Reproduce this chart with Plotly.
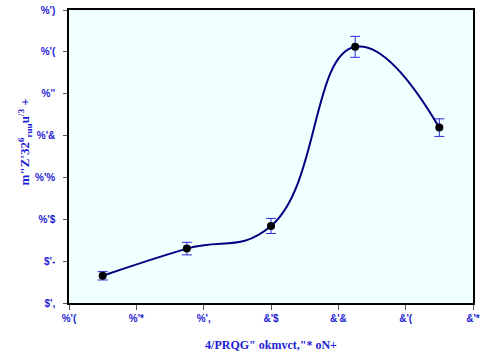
import plotly.graph_objects as go

x_vals = [1.5, 1.75, 2.0, 2.25, 2.5]
y_vals = [0.865, 0.930, 0.984, 1.412, 1.219]
y_err = [0.010, 0.015, 0.018, 0.025, 0.021]

x_tick_vals = [1.4, 1.6, 1.8, 2.0, 2.2, 2.4, 2.6]
x_tick_text = ["%'(", "%'*", "%',", "&'$", "&'&", "&'(", "&'*"]
y_tick_vals = [0.8, 0.9, 1.0, 1.1, 1.2, 1.3, 1.4, 1.5]
y_tick_text = ["$',", "$'-", "%'$", "%'%", "%'&", "%''", "%'(", "%')"]

x_title = "4/PRQG\" okmvct,\"* oN+"
y_title = "m\"Z'32<sup>6</sup><sub>ruu</sub>u<sup>/3</sup> +"

blue = "#1c1cd4"

fig = go.Figure()
fig.add_trace(go.Scatter(
    x=x_vals, y=y_vals,
    mode="lines+markers",
    line=dict(color="#000080", width=2, shape="spline", smoothing=1.3),
    marker=dict(color="black", size=8),
    error_y=dict(type="data", array=y_err, visible=True, color="#2a2ae0", thickness=1, width=5),
    showlegend=False,
))

fig.update_layout(
    width=480, height=358,
    margin=dict(l=69, r=7, t=10, b=55, autoexpand=False),
    paper_bgcolor="white",
    plot_bgcolor="#f0ffff",
    xaxis=dict(
        range=[1.4, 2.6], tickvals=x_tick_vals, ticktext=x_tick_text, automargin=False,
        showgrid=False, zeroline=False, showline=True, linecolor="black", linewidth=1.5,
        mirror=True, ticks="outside", ticklen=5, tickcolor="#555",
        tickfont=dict(family="Liberation Sans", size=10, color=blue, weight="bold"),
        title=dict(text=x_title, font=dict(family="Liberation Serif", size=12, color=blue, weight="bold"), standoff=18),
    ),
    yaxis=dict(
        range=[0.8, 1.5], tickvals=y_tick_vals, ticktext=y_tick_text, automargin=False,
        showgrid=False, zeroline=False, showline=True, linecolor="black", linewidth=1.5,
        mirror=True, ticks="outside", ticklen=4, tickcolor="#555", ticklabelstandoff=6,
        tickfont=dict(family="Liberation Sans", size=10, color=blue, weight="bold"),
    ),
    annotations=[dict(
        text=y_title, textangle=-90, xref="paper", yref="paper",
        x=-0.11, y=0.55, xanchor="center", yanchor="middle", showarrow=False,
        font=dict(family="Liberation Serif", size=13, color=blue, weight="bold"),
    )],
)

fig.write_html("out.html", config={"displayModeBar": False},
               post_script="document.body.style.margin='0';")
